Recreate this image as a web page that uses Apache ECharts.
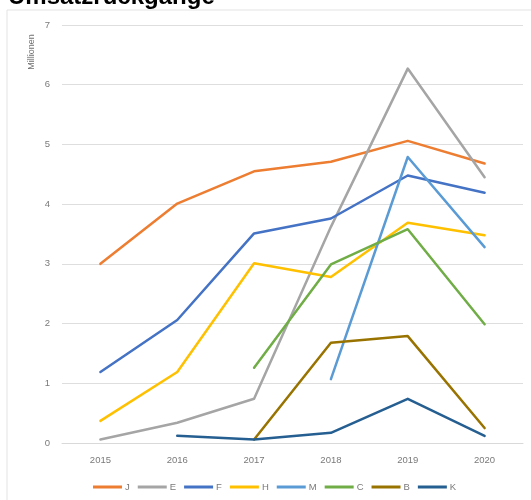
<!DOCTYPE html>
<html>
<head>
<meta charset="utf-8">
<script src="https://cdn.jsdelivr.net/npm/echarts@6/dist/echarts.min.js"></script>
<style>
  html, body { margin: 0; padding: 0; background: #fff; }
  #chart { width: 531px; height: 500px; }
</style>
</head>
<body>
<div id="chart"></div>
<script>
// Jahre auf der x-Achse
const years = ['2015', '2016', '2017', '2018', '2019', '2020'];

// Umsatz je Bereich in Millionen (null = kein Wert)
const seriesNames = ['J', 'E', 'F', 'H', 'M', 'C', 'B', 'K'];
const valuesJ = [3.00, 4.01, 4.55, 4.71, 5.06, 4.68];
const valuesE = [0.06, 0.34, 0.74, 3.62, 6.27, 4.45];
const valuesF = [1.19, 2.06, 3.51, 3.76, 4.48, 4.19];
const valuesH = [0.37, 1.19, 3.01, 2.78, 3.69, 3.48];
const valuesM = [null, null, null, 1.07, 4.79, 3.28];
const valuesC = [null, null, 1.26, 2.99, 3.58, 1.99];
const valuesB = [null, null, 0.06, 1.68, 1.79, 0.25];
const valuesK = [null, 0.12, 0.06, 0.17, 0.74, 0.12];

const colors = ['#ED7D31', '#A5A5A5', '#4472C4', '#FFC000', '#5B9BD5', '#70AD47', '#997300', '#255E91'];
const allValues = [valuesJ, valuesE, valuesF, valuesH, valuesM, valuesC, valuesB, valuesK];

const labelFont = 'Liberation Sans, Arial, sans-serif';
const labelColor = '#7a7a7a';

const chart = echarts.init(document.getElementById('chart'), null, { renderer: 'canvas' });

chart.setOption({
  animation: false,
  backgroundColor: '#ffffff',
  color: colors,
  graphic: [
    {
      type: 'rect',
      shape: { x: 7, y: 10, width: 540, height: 520 },
      style: { fill: 'none', stroke: '#e3e3e3', lineWidth: 1 },
      z: -1
    },
    {
      type: 'text',
      x: 8,
      y: -3,
      style: {
        text: 'Umsatzrückgänge',
        font: 'bold 24px Liberation Sans, Arial, sans-serif',
        fill: '#000000',
        align: 'left',
        verticalAlign: 'middle'
      }
    },
    {
      type: 'text',
      x: 32,
      y: 52,
      rotation: Math.PI / 2,
      style: {
        text: 'Millionen',
        font: '9px ' + labelFont,
        fill: '#707070',
        align: 'center',
        verticalAlign: 'middle'
      }
    }
  ],
  grid: { left: 62, right: 8, top: 25, bottom: 57, containLabel: false },
  xAxis: {
    type: 'category',
    data: years,
    boundaryGap: true,
    axisLine: { show: true, lineStyle: { color: '#d9d9d9', width: 1 } },
    axisTick: { show: false },
    axisLabel: { color: labelColor, fontSize: 9.5, fontFamily: labelFont, margin: 12 }
  },
  yAxis: {
    type: 'value',
    min: 0,
    max: 7,
    interval: 1,
    axisLine: { show: false },
    axisTick: { show: false },
    axisLabel: { color: labelColor, fontSize: 9.5, fontFamily: labelFont, margin: 12 },
    splitLine: { lineStyle: { color: '#dedede', width: 1 } }
  },
  legend: {
    left: 93,
    top: 482,
    padding: 0,
    data: seriesNames,
    icon: 'rect',
    itemWidth: 29,
    itemHeight: 3,
    itemGap: 8,
    textStyle: { color: labelColor, fontSize: 9.5, fontFamily: labelFont, padding: [0, 0, 0, -2] }
  },
  series: seriesNames.map((name, i) => ({
    name: name,
    type: 'line',
    data: allValues[i],
    showSymbol: false,
    symbol: 'none',
    connectNulls: false,
    lineStyle: { width: 2.5, color: colors[i], cap: 'round', join: 'round' },
    itemStyle: { color: colors[i] },
    emphasis: { disabled: true }
  }))
});
</script>
</body>
</html>
